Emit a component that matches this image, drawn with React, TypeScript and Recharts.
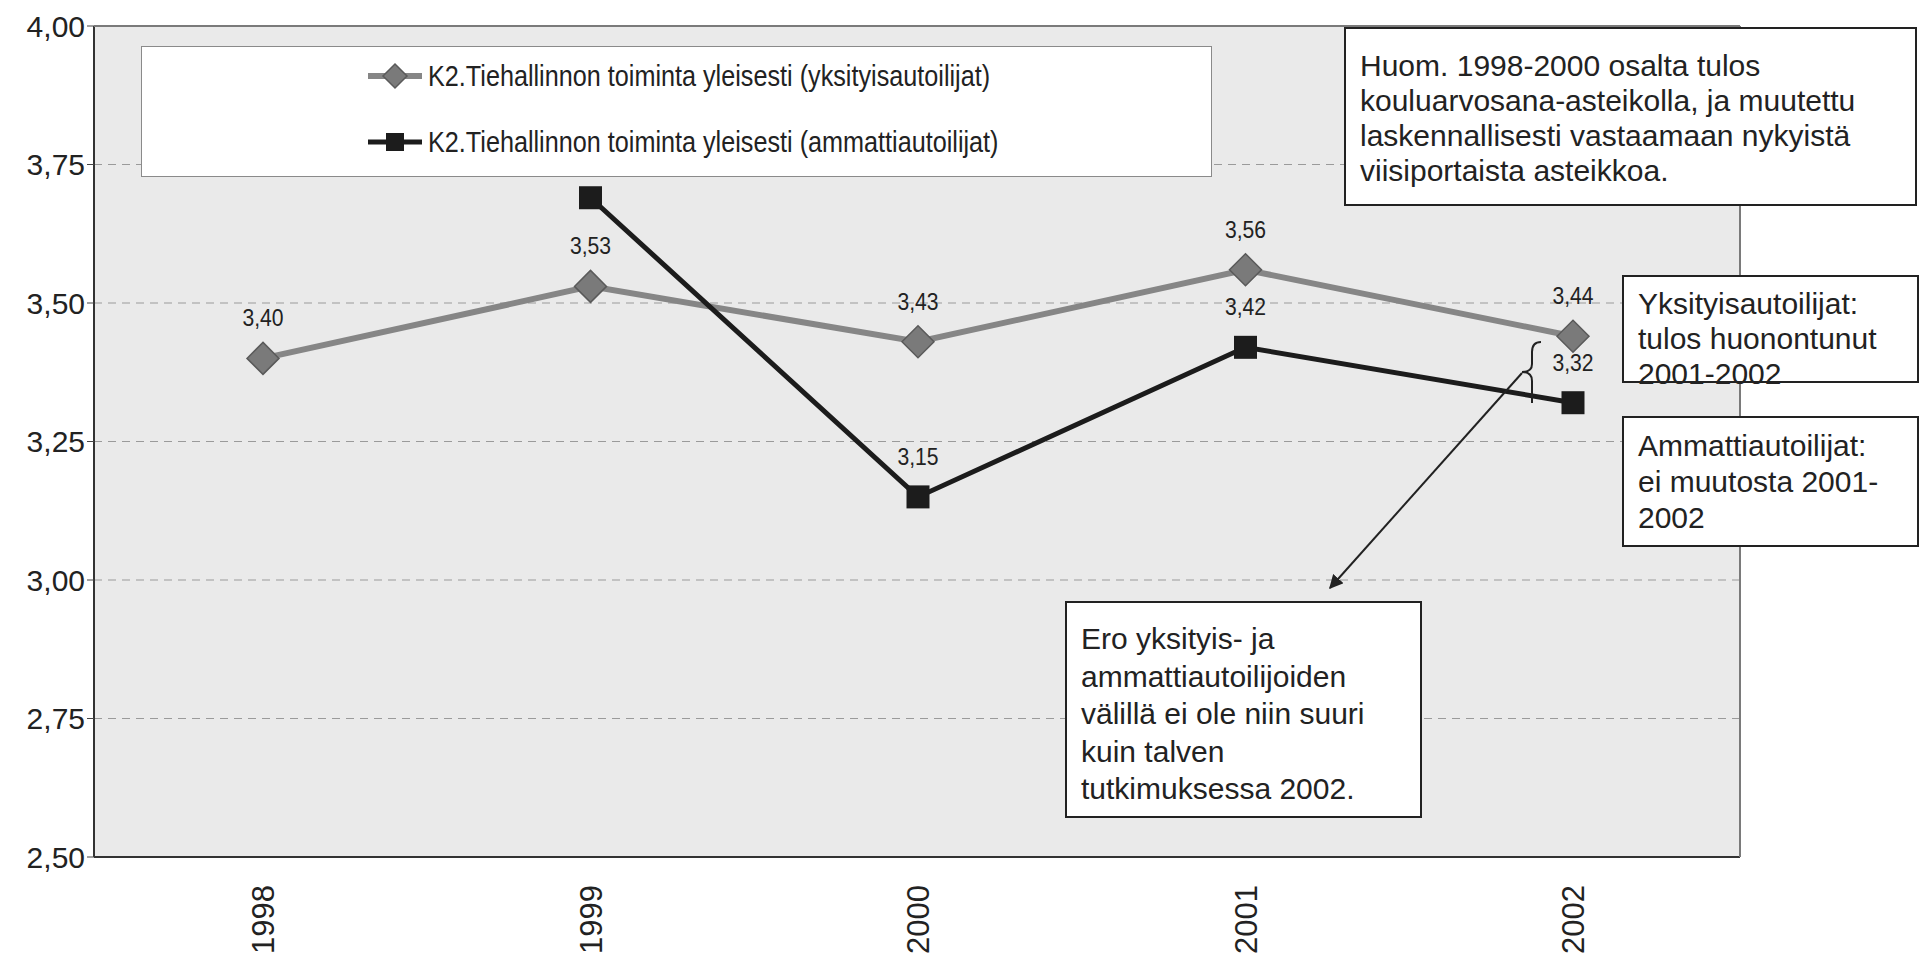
import { LineChart, Line, XAxis, YAxis, CartesianGrid, Legend, LabelList } from 'recharts';

const years = ['1998', '1999', '2000', '2001', '2002'];
const yksityis = [3.4, 3.53, 3.43, 3.56, 3.44];
const ammatti = [null, 3.69, 3.15, 3.42, 3.32];
const yTicks = [2.5, 2.75, 3.0, 3.25, 3.5, 3.75, 4.0];
const seriesNames = [
  'K2.Tiehallinnon toiminta yleisesti (yksityisautoilijat)',
  'K2.Tiehallinnon toiminta yleisesti (ammattiautoilijat)',
];
const noteHuom = [
  'Huom. 1998-2000 osalta tulos',
  'kouluarvosana-asteikolla, ja muutettu',
  'laskennallisesti vastaamaan nykyistä',
  'viisiportaista asteikkoa.',
];
const noteYks = ['Yksityisautoilijat:', 'tulos huonontunut', '2001-2002'];
const noteAmm = ['Ammattiautoilijat:', 'ei muutosta 2001-', '2002'];
const noteEro = [
  'Ero yksityis- ja',
  'ammattiautoilijoiden',
  'välillä ei ole niin suuri',
  'kuin talven',
  'tutkimuksessa 2002.',
];

const data = years.map((year, i) => ({ year, yks: yksityis[i], amm: ammatti[i] }));

const GRAY = '#868686';
const DARK = '#1c1c1c';
const SANS = "'Liberation Sans', Arial, sans-serif";

const fmt = (v: any) => (v == null ? '' : Number(v).toFixed(2).replace('.', ','));

const Diamond = (props: any) => {
  const { cx, cy, index } = props;
  if (cx == null || cy == null) return <g key={`d-${index}`} />;
  const r = 16;
  return (
    <path
      key={`d-${index}`}
      d={`M${cx},${cy - r} L${cx + r},${cy} L${cx},${cy + r} L${cx - r},${cy} Z`}
      fill="#7a7a7a"
      stroke="#5a5a5a"
      strokeWidth={1.5}
    />
  );
};

const Square = (props: any) => {
  const { cx, cy, index } = props;
  if (cx == null || cy == null) return <g key={`s-${index}`} />;
  const r = 11.5;
  return <rect key={`s-${index}`} x={cx - r} y={cy - r} width={r * 2} height={r * 2} fill={DARK} />;
};

// narrow-looking value label (Arial Narrow is not available, so squeeze Liberation Sans)
const ValueLabel = (props: any) => {
  const { x, y, width, value, skipAbove } = props;
  if (value == null || (skipAbove != null && value > skipAbove)) return null;
  const cx = x + (width || 0) / 2;
  const ty = y - 32;
  return (
    <g transform={`translate(${cx},${ty}) scale(0.88,1)`}>
      <text x={0} y={0} textAnchor="middle" fontSize={24} fill="#222" fontFamily={SANS}>
        {fmt(value)}
      </text>
    </g>
  );
};

const YearTick = ({ x, y, payload }: any) => (
  <g transform={`translate(${x},${y + 20})`}>
    <text transform="rotate(-90)" textAnchor="end" dy="0.36em" fontSize={31} fill="#222" fontFamily={SANS}>
      {payload.value}
    </text>
  </g>
);

const LegendBox = () => (
  <div
    style={{
      width: 1071,
      height: 131,
      background: '#fff',
      border: '1.5px solid #8a8a8a',
      boxSizing: 'border-box',
      position: 'relative',
    }}
  >
    {seriesNames.map((name, i) => (
      <div
        key={name}
        style={{ position: 'absolute', left: 224, top: i === 0 ? 12 : 78, height: 34, display: 'flex', alignItems: 'center' }}
      >
        <svg width={58} height={34}>
          <line x1={2} y1={17} x2={56} y2={17} stroke={i === 0 ? GRAY : DARK} strokeWidth={i === 0 ? 6 : 5} />
          {i === 0 ? (
            <path d="M29,5 L41,17 L29,29 L17,17 Z" fill="#7a7a7a" stroke="#5a5a5a" strokeWidth={1.5} />
          ) : (
            <rect x={20} y={8} width={18} height={18} fill={DARK} />
          )}
        </svg>
        <span
          style={{
            fontFamily: SANS,
            fontSize: 30,
            color: '#222',
            marginLeft: 4,
            whiteSpace: 'nowrap',
            display: 'inline-block',
            transform: 'scaleX(0.84)',
            transformOrigin: 'left center',
          }}
        >
          {name}
        </span>
      </div>
    ))}
  </div>
);

const Note = ({ lines, left, top, width, height, lineHeight, padTop }: any) => (
  <div
    style={{
      position: 'absolute',
      left,
      top,
      width,
      height,
      background: '#fff',
      border: '2px solid #222',
      boxSizing: 'border-box',
      paddingLeft: 14,
      paddingTop: padTop,
      fontFamily: SANS,
      fontSize: 30,
      lineHeight: `${lineHeight}px`,
      color: '#222',
      whiteSpace: 'nowrap',
    }}
  >
    {lines.map((l: string) => (
      <div key={l}>{l}</div>
    ))}
  </div>
);

export default function App() {
  return (
    <div style={{ position: 'absolute', left: 0, top: 0, width: 1919, height: 961, background: '#fff', fontFamily: SANS }}>
      <LineChart width={1919} height={961} data={data} margin={{ top: 26, right: 179, bottom: 0, left: 0 }}>
        <CartesianGrid vertical={false} stroke="#9a9a9a" strokeDasharray="8 6" fill="#eaeaea" fillOpacity={1} />
        <XAxis
          dataKey="year"
          height={104}
          tick={<YearTick />}
          tickLine={false}
          axisLine={{ stroke: '#333', strokeWidth: 2 }}
          interval={0}
          padding={{ left: 169, right: 167 }}
        />
        <YAxis
          width={94}
          domain={[2.5, 4]}
          ticks={yTicks}
          tickFormatter={fmt}
          tickSize={7}
          tickMargin={2}
          tickLine={{ stroke: '#444' }}
          axisLine={{ stroke: '#333', strokeWidth: 2 }}
          tick={{ fontSize: 30, fill: '#222', fontFamily: SANS }}
          allowDataOverflow
        />
        <Legend
          layout="horizontal"
          verticalAlign="middle"
          align="center"
          content={() => <LegendBox />}
          wrapperStyle={{ left: 141, top: 46, width: 1071, height: 131 }}
        />
        <Line
          dataKey="yks"
          name={seriesNames[0]}
          stroke={GRAY}
          strokeWidth={6}
          dot={Diamond}
          activeDot={false}
          isAnimationActive={false}
        >
          <LabelList dataKey="yks" content={<ValueLabel />} />
        </Line>
        <Line
          dataKey="amm"
          name={seriesNames[1]}
          stroke={DARK}
          strokeWidth={5}
          dot={Square}
          activeDot={false}
          isAnimationActive={false}
        >
          <LabelList dataKey="amm" content={<ValueLabel skipAbove={3.6} />} />
        </Line>
      </LineChart>

      <svg width={1919} height={961} style={{ position: 'absolute', left: 0, top: 0, pointerEvents: 'none' }}>
        <defs>
          <marker id="arr" viewBox="0 0 10 10" refX="9" refY="5" markerWidth="7" markerHeight="7" orient="auto">
            <path d="M0,0 L10,5 L0,10 Z" fill="#222" />
          </marker>
        </defs>
        <line x1={94} y1={26} x2={1740} y2={26} stroke="#7a7a7a" strokeWidth={2} />
        <line x1={1740} y1={26} x2={1740} y2={857} stroke="#7a7a7a" strokeWidth={2} />
        <path
          d="M1541,342 Q1532,342 1532,352 L1532,364 Q1532,372 1522,372 Q1532,372 1532,381 L1532,403"
          fill="none"
          stroke="#222"
          strokeWidth={2}
        />
        <line x1={1522} y1={373} x2={1330} y2={588} stroke="#222" strokeWidth={2} markerEnd="url(#arr)" />
      </svg>

      <Note lines={noteHuom} left={1344} top={27} width={573} height={179} lineHeight={35} padTop={19} />
      <Note lines={noteYks} left={1622} top={275} width={297} height={108} lineHeight={35} padTop={9} />
      <Note lines={noteAmm} left={1622} top={416} width={297} height={131} lineHeight={36} padTop={10} />
      <Note lines={noteEro} left={1065} top={601} width={357} height={217} lineHeight={37.5} padTop={17} />
    </div>
  );
}
